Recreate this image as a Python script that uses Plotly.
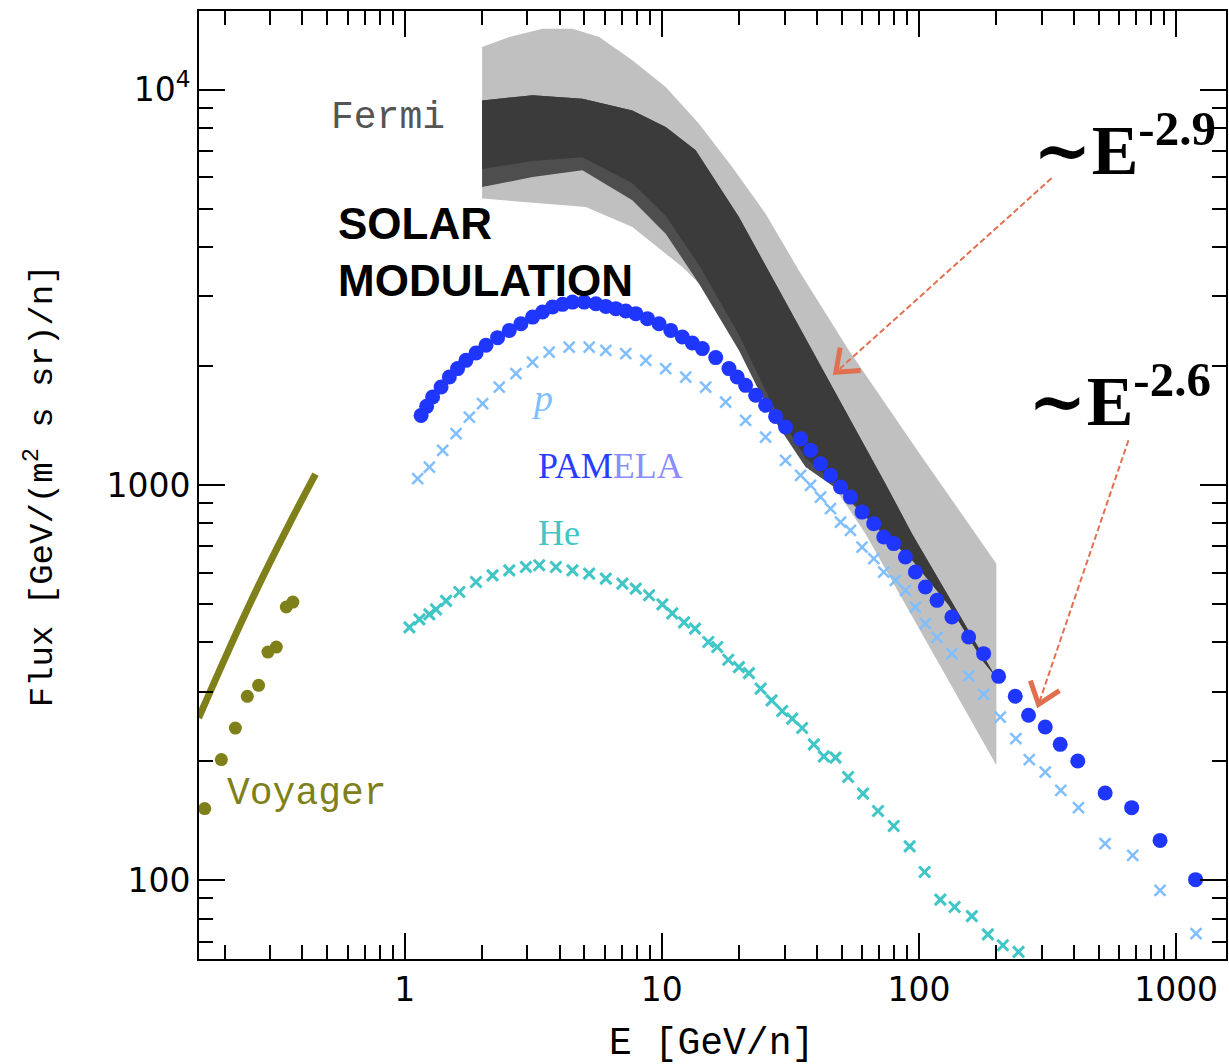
import math
import plotly.graph_objects as go

# ---------------- data ----------------
# Voyager (olive) model line and data points
voy_line_E = [0.158, 0.2073, 0.2710, 0.3544, 0.4498]
voy_line_F = [257.6, 384, 559, 793, 1065]
voy_pts_E = [0.1668, 0.1936, 0.2195, 0.2443, 0.2703, 0.2938, 0.3167, 0.3463, 0.3673]
voy_pts_F = [151.9, 202, 242.8, 292.1, 311.3, 378, 389, 491.3, 505.7]

# PAMELA proton (blue filled circles)
pam_p_E = [1.158, 1.217, 1.284, 1.385, 1.491, 1.606, 1.731, 1.894, 2.071, 2.297, 2.551, 2.831,
           3.142, 3.435, 3.756, 4.108, 4.491, 4.988, 5.538, 6.055, 6.622, 7.241, 7.918, 8.785,
           9.753, 10.83, 12.02, 13.14, 14.37, 16.2, 18.24, 19.64, 21.17, 23.16, 25.32, 27.69,
           30.28, 34.63, 37.87, 41.41, 45.29, 49.54, 54.15, 60.06, 66.7, 72.94, 79.75, 88.55,
           96.83, 105.9, 117.5, 134.3, 156, 178.4, 204, 236.8, 266.7, 309.7, 354.1, 414.6,
           529.7, 671.6, 866.1, 1190.5]
pam_p_F = [1500, 1581, 1669, 1769, 1875, 1970, 2067, 2157, 2256, 2359, 2461, 2559,
           2659, 2739, 2819, 2864, 2902, 2902, 2875, 2830, 2793, 2754, 2713, 2635,
           2559, 2461, 2367, 2286, 2213, 2100, 1970, 1875, 1787, 1686, 1591, 1491,
           1402, 1310, 1224, 1132, 1058, 988, 932, 854, 798.5, 738.5, 710.8, 657.5,
           602.3, 552, 510.8, 463.5, 412.6, 374.5, 328.1, 292.1, 261.5, 244.3, 220.8, 200.4,
           166.3, 152.7, 126.2, 100.4]

# light-blue crosses
lb_E = [1.123, 1.247, 1.405, 1.584, 1.784, 2.009, 2.332, 2.708, 3.142, 3.647, 4.362, 5.216,
        6.055, 7.241, 8.66, 10.35, 12.38, 14.81, 17.71, 21.17, 25.32, 30.28, 34.63, 37.87,
        41.41, 45.29, 49.54, 54.15, 60.06, 66.7, 72.94, 80.95, 88.55, 96.83, 105.9, 117.5,
        134.3, 156, 178.4, 207.1, 238.1, 268.4, 309.7, 356.1, 417.1, 529.7, 677.7, 866.1, 1195]
lb_F = [1037.6, 1110, 1224, 1349, 1485, 1606, 1769, 1913, 2046, 2169, 2233, 2233,
        2191, 2149, 2067, 1970, 1875, 1769, 1621, 1457, 1322, 1154, 1058, 998,
        932, 871.4, 805.8, 767.8, 696.7, 651.3, 602.3, 573.9, 541.4, 491.3, 445.9, 411.8,
        374.5, 329.1, 295.5, 258.8, 228.3, 202, 187.9, 168.9, 152.7, 123.8, 115.7, 94.3, 73.3]

# Helium (cyan crosses)
he_E = [1.043, 1.141, 1.247, 1.324, 1.448, 1.631, 1.894, 2.196, 2.551, 2.961, 3.336, 3.873,
        4.491, 5.216, 6.055, 7.025, 7.918, 8.919, 10.05, 10.98, 12.2, 13.46, 15.16, 16.43,
        18.13, 19.94, 21.81, 24.22, 26.73, 29.38, 32.13, 35.13, 39, 42.66, 47.35, 53.02,
        60.6, 69.3, 79.75, 92.01, 105.2, 121.1, 137.6, 160.6, 185.3, 211.9, 243.9]
he_F = [436.4, 457.3, 470.8, 484.7, 509.3, 536.1, 568.3, 590.9, 608.3, 620.2, 626.4, 620.2,
        608.3, 596.8, 579.7, 563.1, 546.9, 526, 498.9, 473.5, 449.4, 433.2, 400.6, 389.1,
        361.5, 346.3, 334.4, 305.4, 285.3, 268.1, 256.5, 242.8, 220.8, 205.9, 204.3, 182.5,
        165.7, 149.7, 137.2, 121.9, 105, 89.4, 85.6, 81.2, 73, 68.5, 65.9]

# Fermi envelope (light gray): upper and lower edges
fermi_up_E = [2, 2.551, 3.435, 4.491, 5.705, 7.68, 10.35, 13.95, 18.78, 25.32, 34.11, 53.33, 99.7, 200]
fermi_up_F = [12817, 13588, 14268, 14268, 13588, 11863, 10153, 8204, 6372, 4857, 3490, 2191, 1211, 632.5]
fermi_lo_E = [2, 5.064, 7.68, 12.02, 16.2, 25.32, 34.11, 45.93, 61.9, 83.4, 200]
fermi_lo_F = [5302, 5049, 4493, 3558, 2931, 1807, 1297, 1008, 753.2, 531.9, 195.4]

# Fermi posterior bundle (dark gray): outer envelope
dark_up_E = [2, 3.142, 4.912, 7.68, 10.35, 13.54, 19.94, 27.69, 38.41, 53.33, 74.06, 93.93, 198]
dark_up_F = [9395, 9674, 9488, 8863, 8043, 7023, 4763, 3231, 2191, 1485, 1008, 753.2, 328.1]
dark_lo_E = [2, 3.142, 4.912, 7.68, 10.35, 13.95, 19.94, 26.87, 36.22, 48.78, 67.7, 93.93, 130.5, 178.4]
dark_lo_F = [5670, 6009, 6250, 5248, 4323, 3231, 2191, 1485, 1110, 969.5, 782.7, 644.7, 496.2, 356]
# darkest core of the bundle (lower edge)
core_lo_E = [2, 3.142, 4.912, 7.68, 10.35, 13.95, 19.94, 26.87, 36.22, 48.78, 67.7, 93.93, 130.5, 178.4]
core_lo_F = [6300, 6600, 6750, 5800, 4800, 3600, 2400, 1600, 1170, 990, 790, 647, 498, 357]

x_tickvals = [1, 10, 100, 1000]
x_ticktext = ["1", "10", "100", "1000"]
x_minor = [0.2, 0.3, 0.4, 0.5, 0.6, 0.7, 0.8, 0.9,
           2, 3, 4, 5, 6, 7, 8, 9, 20, 30, 40, 50, 60, 70, 80, 90,
           200, 300, 400, 500, 600, 700, 800, 900]
y_tickvals = [100, 1000, 10000]
y_ticktext = ["100", "1000", "10<sup>4</sup>"]
y_minor = [70, 80, 90, 200, 300, 400, 500, 600, 700, 800, 900,
           2000, 3000, 4000, 5000, 6000, 7000, 8000, 9000]

# ---------------- figure ----------------
W, H = 1229, 1064
L, R, T, B = 199.3, 1227.7, 10.7, 958.7


def px(x):
    return (x - L) / (R - L)


def py(y):
    return (B - y) / (B - T)


OLIVE = "#80801a"
BLUE = "#1f36ff"
LBLUE = "#80bfff"
CYAN = "#40c6c6"

fig = go.Figure()

fig.add_trace(go.Scatter(
    x=fermi_up_E + fermi_lo_E[::-1], y=fermi_up_F + fermi_lo_F[::-1],
    fill="toself", fillcolor="#c0c0c0", line=dict(width=0), mode="lines", hoverinfo="skip"))
fig.add_trace(go.Scatter(
    x=dark_up_E + dark_lo_E[::-1], y=dark_up_F + dark_lo_F[::-1],
    fill="toself", fillcolor="#4e4e4e", line=dict(width=0), mode="lines", hoverinfo="skip"))
fig.add_trace(go.Scatter(
    x=dark_up_E + core_lo_E[::-1], y=dark_up_F + core_lo_F[::-1],
    fill="toself", fillcolor="#3b3b3b", line=dict(width=0), mode="lines", hoverinfo="skip"))

fig.add_trace(go.Scatter(x=voy_line_E, y=voy_line_F, mode="lines",
                         line=dict(color=OLIVE, width=7, shape="spline")))
fig.add_trace(go.Scatter(x=voy_pts_E, y=voy_pts_F, mode="markers",
                         marker=dict(color=OLIVE, size=13, symbol="circle")))
fig.add_trace(go.Scatter(x=he_E, y=he_F, mode="markers",
                         marker=dict(symbol="x-thin", size=11, line=dict(color=CYAN, width=3))))
fig.add_trace(go.Scatter(x=lb_E, y=lb_F, mode="markers",
                         marker=dict(symbol="x-thin", size=11, line=dict(color=LBLUE, width=2.5))))
fig.add_trace(go.Scatter(x=pam_p_E, y=pam_p_F, mode="markers",
                         marker=dict(color=BLUE, size=15, symbol="circle")))

axis_common = dict(
    type="log", showgrid=False, zeroline=False, showline=True, linecolor="black",
    linewidth=2, mirror="allticks", ticks="inside", ticklen=26, tickwidth=2,
    tickcolor="black", tickmode="array",
    tickfont=dict(family="DejaVu Sans", size=33, color="black"),
)

fig.update_xaxes(range=[-0.8, 3.194], tickvals=x_tickvals, ticktext=x_ticktext,
                 minor=dict(tickmode="array", tickvals=x_minor, ticks="inside",
                            ticklen=14, tickwidth=2, tickcolor="black", showgrid=False),
                 **axis_common)
fig.update_yaxes(range=[1.801, 4.199], tickvals=y_tickvals, ticktext=y_ticktext,
                 minor=dict(tickmode="array", tickvals=y_minor, ticks="inside",
                            ticklen=14, tickwidth=2, tickcolor="black", showgrid=False),
                 **axis_common)

ann = []


def add_text(text, x, y, size, color, family, xanchor="center", yanchor="middle",
             angle=0, align="center"):
    ann.append(dict(text=text, x=px(x), y=py(y), xref="paper", yref="paper",
                    showarrow=False, xanchor=xanchor, yanchor=yanchor, textangle=angle,
                    align=align, font=dict(size=size, color=color, family=family)))


add_text("Fermi", 389, 117, 38, "#555555", "Liberation Mono")
add_text("<b>SOLAR<br>MODULATION</b>", 336, 197, 44, "black", "Liberation Sans",
         xanchor="left", yanchor="top", align="left")
add_text("<i>p</i>", 543, 398, 38, LBLUE, "Liberation Serif")
add_text("<span style='color:#2a3cff'>PAM</span><span style='color:#8a8cff'>ELA</span>",
         611, 466, 36, BLUE, "Liberation Serif")
add_text("He", 560, 533, 36, CYAN, "Liberation Serif")
add_text("Voyager", 307.5, 793, 38, OLIVE, "Liberation Mono")
add_text("<b><span style='font-family:DejaVu Serif'>~</span>E<sup>-2.9</sup></b>",
         1126, 146, 70, "black", "Liberation Serif")
add_text("<b><span style='font-family:DejaVu Serif'>~</span>E<sup>-2.6</sup></b>",
         1121, 397, 70, "black", "Liberation Serif")
add_text("E [GeV/n]", 712, 1043, 38, "black", "Liberation Mono")
add_text("Flux [GeV/(m<sup>2</sup> s sr)/n]", 40, 485, 34, "black", "Liberation Mono", angle=-90)

fig.update_layout(annotations=ann)

# dashed arrows with open chevron heads
ARROW = "#e07050"
shapes = []


def arrow(x0, y0, x1, y1):
    dx, dy = x1 - x0, y1 - y0
    n = math.hypot(dx, dy)
    ux, uy = dx / n, dy / n
    shapes.append(dict(type="line", xref="paper", yref="paper",
                       x0=px(x0), y0=py(y0), x1=px(x1 - ux * 3), y1=py(y1 - uy * 3),
                       line=dict(color=ARROW, width=2, dash="6px,3px")))
    ang = math.radians(38)
    ln = 25
    bx, by = -ux, -uy
    pts = []
    for s in (1, -1):
        c, si = math.cos(s * ang), math.sin(s * ang)
        rx, ry = bx * c - by * si, bx * si + by * c
        pts.append((x1 + rx * ln, y1 + ry * ln))
    path = "M {:.5f},{:.5f} L {:.5f},{:.5f} L {:.5f},{:.5f}".format(
        px(pts[0][0]), py(pts[0][1]), px(x1), py(y1), px(pts[1][0]), py(pts[1][1]))
    shapes.append(dict(type="path", xref="paper", yref="paper", path=path,
                       line=dict(color=ARROW, width=5)))


arrow(1053, 178, 837, 372)
arrow(1130, 440, 1040, 704)

fig.update_layout(
    width=W, height=H, shapes=shapes, showlegend=False,
    margin=dict(l=L, r=W - R, t=T, b=H - B, pad=0),
    paper_bgcolor="white", plot_bgcolor="white",
)

fig.write_html("out.html")
